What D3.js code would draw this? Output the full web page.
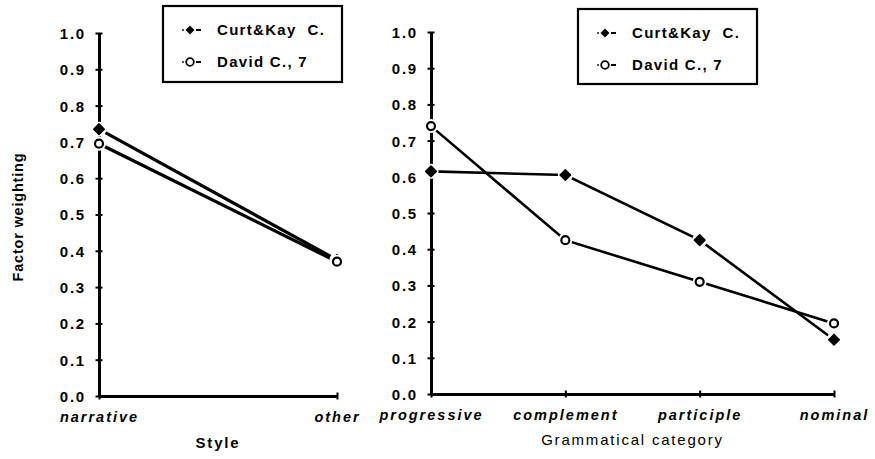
<!DOCTYPE html>
<html>
<head>
<meta charset="utf-8">
<script src="https://cdn.jsdelivr.net/npm/d3@7"></script>
<style>
  body { margin: 0; background: #fff; }
  svg text { font-family: "Liberation Sans", Arial, sans-serif; fill: #000; }
</style>
</head>
<body>
<div id="chart"></div>
<script>
var styleCats = ["narrative", "other"];
var styleCurt = [0.735, 0.375];
var styleDavid = [0.695, 0.37];

var gramCats = ["progressive", "complement", "participle", "nominal"];
var gramCurt = [0.615, 0.605, 0.425, 0.15];
var gramDavid = [0.74, 0.425, 0.31, 0.195];

var yTicks = [0, 0.1, 0.2, 0.3, 0.4, 0.5, 0.6, 0.7, 0.8, 0.9, 1.0];
var seriesNames = ["Curt&Kay  C.", "David C., 7"];

var width = 875, height = 459;

var svg = d3.select("#chart").append("svg")
  .attr("width", width)
  .attr("height", height);

var diamond = d3.symbol().type(d3.symbolSquare).size(56);

function drawMarker(g, x, y, filled) {
  // white halo so lines and axis look broken around the marker
  g.append("circle").attr("cx", x).attr("cy", y).attr("r", filled ? 7.5 : 7).attr("fill", "#fff");
  if (filled) {
    g.append("path").attr("d", diamond).attr("transform", `translate(${x},${y}) rotate(45)`)
      .attr("fill", "#000").attr("stroke", "#000").attr("stroke-width", 1.5)
      .attr("stroke-linejoin", "round");
  } else {
    g.append("circle").attr("cx", x).attr("cy", y).attr("r", 4)
      .attr("fill", "#fff").attr("stroke", "#000").attr("stroke-width", 2.2);
  }
}

function panel(cats, curt, david, xRange, yRange, xTitle, xTitleY, xTitleBold, legendBox, lineW) {
  var x = d3.scalePoint().domain(cats).range(xRange);
  var y = d3.scaleLinear().domain([0, 1]).range(yRange);
  var g = svg.append("g");

  // y axis
  var yAxis = g.append("g")
    .attr("transform", `translate(${xRange[0]},0)`)
    .call(d3.axisLeft(y).tickValues(yTicks).tickSize(0).tickPadding(13).tickFormat(d3.format(".1f")));
  yAxis.select(".domain").attr("stroke", "#000").attr("stroke-width", 3);
  yAxis.selectAll(".tick").append("line")
    .attr("x1", -3.5).attr("x2", 3.5).attr("stroke", "#000").attr("stroke-width", 2);
  yAxis.selectAll(".tick text")
    .style("font-size", "15px").style("font-weight", "bold").style("letter-spacing", "1.8px")
    .attr("dy", "0.36em");

  // x axis
  var xAxis = g.append("g")
    .attr("transform", `translate(0,${yRange[0]})`)
    .call(d3.axisBottom(x).tickSize(0).tickPadding(16));
  xAxis.select(".domain").attr("stroke", "#000").attr("stroke-width", 3);
  xAxis.selectAll(".tick").append("line")
    .attr("y1", -3.5).attr("y2", 3.5).attr("stroke", "#000").attr("stroke-width", 2);
  xAxis.selectAll(".tick text")
    .style("font-size", "14.5px").style("font-style", "italic").style("font-weight", "bold")
    .style("letter-spacing", "2px");

  // lines
  var line = d3.line().x((d, i) => x(cats[i])).y(d => y(d));
  g.append("path").datum(curt).attr("d", line)
    .attr("fill", "none").attr("stroke", "#000").attr("stroke-width", lineW);
  g.append("path").datum(david).attr("d", line)
    .attr("fill", "none").attr("stroke", "#000").attr("stroke-width", lineW);

  curt.forEach((v, i) => drawMarker(g, x(cats[i]), y(v), true));
  david.forEach((v, i) => drawMarker(g, x(cats[i]), y(v), false));

  // x title
  g.append("text")
    .attr("x", (xRange[0] + xRange[1]) / 2)
    .attr("y", xTitleY)
    .attr("text-anchor", "middle")
    .style("font-size", "15px")
    .style("font-weight", xTitleBold ? "bold" : "normal")
    .style("letter-spacing", "1.8px")
    .text(xTitle);

  // legend
  var lg = g.append("g");
  lg.append("rect")
    .attr("x", legendBox[0]).attr("y", legendBox[1])
    .attr("width", legendBox[2]).attr("height", legendBox[3])
    .attr("fill", "#fff").attr("stroke", "#000").attr("stroke-width", 2.2);
  seriesNames.forEach(function(name, i) {
    var cy = legendBox[1] + 24 + i * 32;
    var mx = legendBox[0] + 27;
    lg.append("circle").attr("cx", mx - 7).attr("cy", cy).attr("r", 0.9).attr("fill", "#000");
    lg.append("line").attr("x1", mx + 6).attr("x2", mx + 11).attr("y1", cy).attr("y2", cy)
      .attr("stroke", "#000").attr("stroke-width", 2);
    if (i === 0) {
      lg.append("path").attr("d", d3.symbol().type(d3.symbolSquare).size(40))
        .attr("transform", `translate(${mx},${cy}) rotate(45)`)
        .attr("fill", "#000");
    } else {
      lg.append("circle").attr("cx", mx).attr("cy", cy).attr("r", 3.8)
        .attr("fill", "#fff").attr("stroke", "#000").attr("stroke-width", 1.8);
    }
    lg.append("text")
      .attr("x", mx + 27).attr("y", cy).attr("dy", "0.36em")
      .attr("xml:space", "preserve")
      .style("white-space", "pre")
      .style("font-size", "15px").style("font-weight", "bold").style("letter-spacing", "1.3px")
      .text(name);
  });
}

panel(styleCats, styleCurt, styleDavid, [99, 337], [396, 33], "Style", 448, true, [163, 6, 179, 76], 3.2);
panel(gramCats, gramCurt, gramDavid, [431, 834], [394, 32], "Grammatical category", 445, false, [578, 9, 179, 75], 2.6);

// y axis title
svg.append("text")
  .attr("transform", "translate(23,217) rotate(-90)")
  .attr("text-anchor", "middle")
  .style("font-size", "14.5px")
  .style("font-weight", "bold")
  .style("letter-spacing", "0.8px")
  .text("Factor weighting");
</script>
</body>
</html>
